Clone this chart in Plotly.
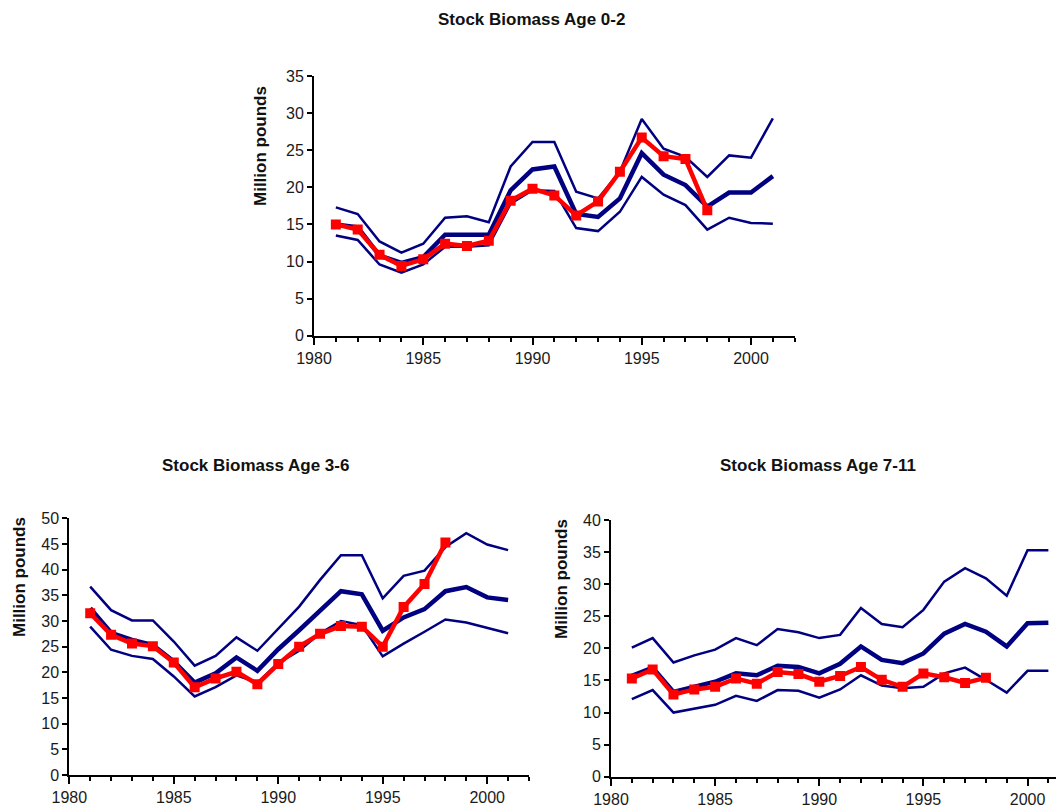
import plotly.graph_objects as go

W, H = 1064, 812
OFF = 8  # page body margin in the browser

years = list(range(1981, 2002))
obs_years = list(range(1981, 1999))

# Stock Biomass Age 0-2 (million pounds)
a02_upper = [17.3, 16.4, 12.7, 11.2, 12.4, 15.9, 16.1, 15.3, 22.8, 26.1, 26.1,
             19.4, 18.5, 22.1, 29.2, 25.2, 24.1, 21.4, 24.3, 24.0, 29.3]
a02_mid = [15.0, 14.6, 10.8, 9.8, 10.6, 13.6, 13.6, 13.6, 19.6, 22.4, 22.8,
           16.4, 16.0, 18.5, 24.6, 21.7, 20.3, 17.4, 19.3, 19.3, 21.5]
a02_lower = [13.5, 12.9, 9.6, 8.5, 9.6, 12.0, 12.0, 12.2, 17.8, 19.6, 19.5,
             14.5, 14.1, 16.7, 21.4, 19.0, 17.6, 14.3, 15.9, 15.2, 15.1]
a02_obs = [15.0, 14.3, 10.9, 9.4, 10.3, 12.4, 12.1, 12.8, 18.2, 19.8, 18.9,
           16.2, 18.1, 22.1, 26.7, 24.2, 23.8, 16.9]

# Stock Biomass Age 3-6
a36_upper = [36.7, 32.1, 30.1, 30.1, 26.0, 21.3, 23.2, 26.8, 24.2, 28.6, 32.8,
             38.0, 42.8, 42.8, 34.4, 38.8, 39.8, 44.4, 47.1, 44.9, 43.8]
a36_mid = [32.5, 27.7, 26.3, 25.3, 22.1, 18.0, 19.8, 22.9, 20.3, 24.5, 28.2,
           32.1, 35.8, 35.2, 28.1, 30.7, 32.3, 35.8, 36.6, 34.6, 34.1]
a36_lower = [28.9, 24.4, 23.2, 22.6, 19.2, 15.3, 17.1, 19.4, 18.0, 21.8, 24.2,
             27.6, 30.0, 29.2, 23.1, 25.6, 27.9, 30.3, 29.7, 28.7, 27.6]
a36_obs = [31.5, 27.3, 25.6, 25.1, 21.9, 17.1, 18.8, 20.1, 17.7, 21.6, 25.0,
           27.5, 29.0, 28.9, 25.0, 32.7, 37.2, 45.3]

# Stock Biomass Age 7-11
a711_upper = [20.1, 21.6, 17.8, 18.9, 19.8, 21.6, 20.5, 23.0, 22.5, 21.6, 22.1,
              26.3, 23.8, 23.3, 26.0, 30.4, 32.5, 30.9, 28.2, 35.3, 35.3]
a711_mid = [15.7, 17.0, 13.2, 14.0, 14.8, 16.1, 15.8, 17.3, 17.1, 16.1, 17.6,
            20.3, 18.2, 17.7, 19.2, 22.3, 23.8, 22.6, 20.3, 23.9, 24.0]
a711_lower = [12.1, 13.5, 10.0, 10.6, 11.2, 12.6, 11.8, 13.5, 13.4, 12.3, 13.6,
              15.8, 14.2, 13.8, 14.0, 16.1, 17.0, 15.1, 13.1, 16.5, 16.5]
a711_obs = [15.3, 16.7, 12.8, 13.6, 14.0, 15.3, 14.5, 16.3, 16.0, 14.8, 15.7,
            17.1, 15.1, 14.0, 16.1, 15.5, 14.6, 15.4]

titles = ["Stock Biomass Age 0-2", "Stock Biomass Age 3-6", "Stock Biomass Age 7-11"]
ytitle = "Million pounds"

NAVY = "#000080"
RED = "#FF0000"


def px(x):
    return (x - OFF) / W


def py(y):
    return 1 - (y - OFF) / H


fig = go.Figure()

panels = [
    (a02_upper, a02_mid, a02_lower, a02_obs, "x", "y"),
    (a36_upper, a36_mid, a36_lower, a36_obs, "x2", "y2"),
    (a711_upper, a711_mid, a711_lower, a711_obs, "x3", "y3"),
]
for up, mid, lo, obs, xa, ya in panels:
    fig.add_trace(go.Scatter(x=years, y=up, mode="lines", xaxis=xa, yaxis=ya,
                             line=dict(color=NAVY, width=2.5), showlegend=False))
    fig.add_trace(go.Scatter(x=years, y=mid, mode="lines", xaxis=xa, yaxis=ya,
                             line=dict(color=NAVY, width=4.5), showlegend=False))
    fig.add_trace(go.Scatter(x=years, y=lo, mode="lines", xaxis=xa, yaxis=ya,
                             line=dict(color=NAVY, width=2.5), showlegend=False))
    fig.add_trace(go.Scatter(x=obs_years, y=obs, mode="lines+markers", xaxis=xa, yaxis=ya,
                             line=dict(color=RED, width=4.5),
                             marker=dict(symbol="square", size=10, color=RED),
                             showlegend=False))

tickfont = dict(family="Arial, Liberation Sans, sans-serif", size=16, color="#1a1a1a")


def xax(domain, anchor, rng):
    return dict(domain=domain, anchor=anchor, range=rng, tickmode="linear", tick0=1980, dtick=5,
                ticks="outside", ticklen=7, tickwidth=1.5, tickcolor="black",
                minor=dict(dtick=1, tick0=1980, ticks="outside", ticklen=4, tickwidth=1.5,
                           tickcolor="black", showgrid=False),
                showline=True, linecolor="black", linewidth=2, showgrid=False, zeroline=False,
                tickfont=tickfont, fixedrange=True, automargin=False)


def yax(domain, anchor, rng):
    return dict(domain=domain, anchor=anchor, range=rng, tickmode="linear", tick0=0, dtick=5,
                ticks="outside", ticklen=5, tickwidth=1.5, tickcolor="black",
                showline=True, linecolor="black", linewidth=2, showgrid=False, zeroline=False,
                tickfont=tickfont, fixedrange=True, automargin=False)


fig.update_layout(
    width=W, height=H,
    margin=dict(l=0, r=0, t=0, b=0, pad=0, autoexpand=False),
    paper_bgcolor="white", plot_bgcolor="white",
    xaxis=xax([px(314), px(794.7)], "y", [1980, 2002]),
    yaxis=yax([py(335.7), py(76)], "x", [0, 35]),
    xaxis2=xax([px(69.3), px(529)], "y2", [1980, 2002]),
    yaxis2=yax([py(775), py(518.3)], "x2", [0, 50]),
    xaxis3=xax([px(611), px(1064)], "y3", [1980, 2001.75]),
    yaxis3=yax([py(776.7), py(520)], "x3", [0, 40]),
)

tfont = dict(family="Arial, Liberation Sans, sans-serif", size=17, color="#111111")
ann = []
for text, cx, cy in [(titles[0], 531, 20), (titles[1], 255, 465), (titles[2], 818, 465)]:
    ann.append(dict(text="<b>%s</b>" % text, x=px(cx), y=py(cy), xref="paper", yref="paper",
                    showarrow=False, font=tfont, xanchor="center", yanchor="middle"))
for cx, cy in [(261, 146), (19, 577), (561, 579)]:
    ann.append(dict(text="<b>%s</b>" % ytitle, x=px(cx), y=py(cy), xref="paper", yref="paper",
                    showarrow=False, font=tfont, textangle=-90, xanchor="center", yanchor="middle"))
fig.update_layout(annotations=ann)

fig.write_html("out.html")
